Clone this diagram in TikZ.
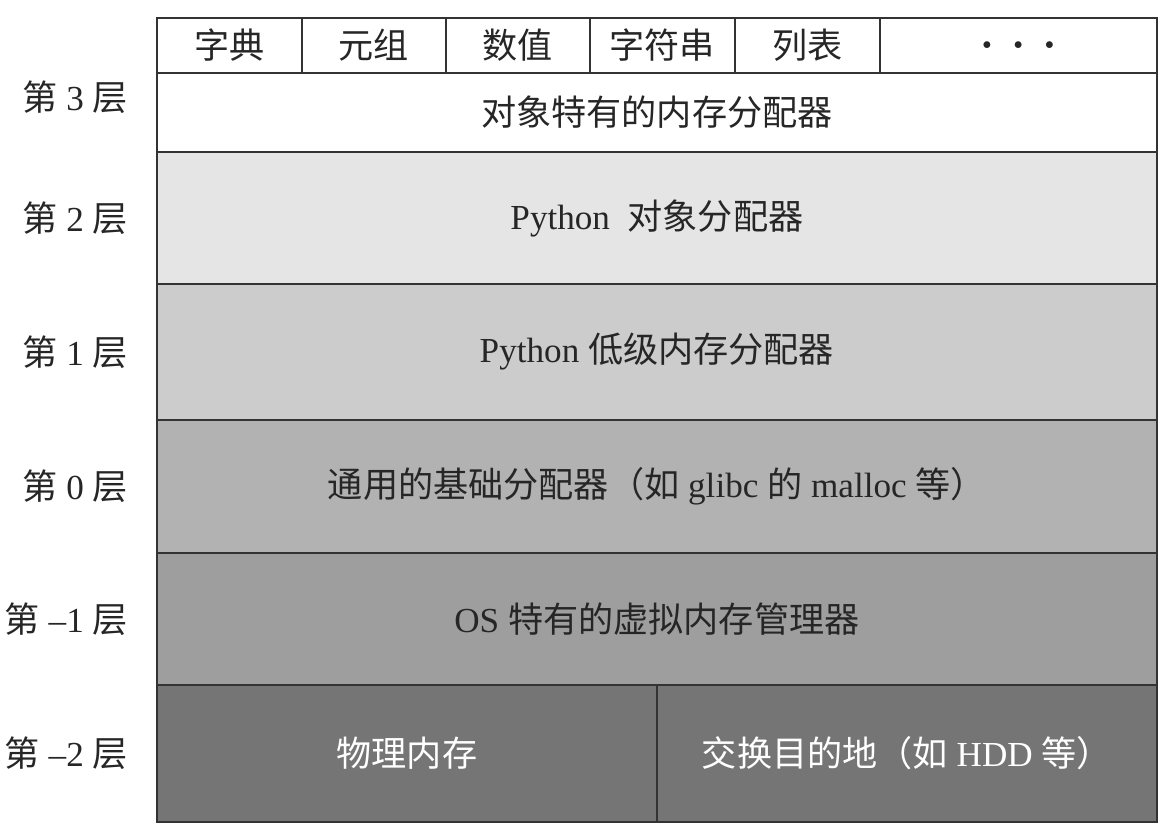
\documentclass[tikz,border=0pt]{standalone}
\usepackage{fontspec}
\setmainfont{Liberation Serif}
\newfontfamily\cjk{Noto Sans CJK SC}
\usetikzlibrary{positioning}
\tikzset{
  cell/.style={rectangle,draw=black!80,line width=0.8pt,outer sep=0pt,inner sep=0pt,minimum height=1.1cm,text=black!85,font=\fontsize{20}{24}\selectfont},
  lyr/.style={rectangle,draw=black!80,line width=0.8pt,outer sep=0pt,inner sep=0pt,minimum width=20cm,text=black!85,font=\fontsize{20}{24}\selectfont},
  lbl/.style={anchor=east,text=black!85,font=\fontsize{20}{24}\selectfont},
}
\newcommand{\dotsym}{{\fontsize{10}{12}\selectfont$\bullet$}}

\begin{document}
\begin{tikzpicture}[x=0.02cm,y=-0.02cm]
  \useasboundingbox (0,0) rectangle (1166,832);
  % object types
  \node[cell,minimum width=2.9cm,anchor=north west] (dict) at (157,18) {\cjk 字典};
  \node[cell,minimum width=2.88cm,right=0pt of dict] (tup) {\cjk 元组};
  \node[cell,minimum width=2.88cm,right=0pt of tup] (num) {\cjk 数值};
  \node[cell,minimum width=2.9cm,right=0pt of num] (str) {\cjk 字符串};
  \node[cell,minimum width=2.9cm,right=0pt of str] (lst) {\cjk 列表};
  \node[cell,minimum width=5.54cm,right=0pt of lst] (etc) {\dotsym\hspace{0.45cm}\dotsym\hspace{0.45cm}\dotsym};
  % layers
  \node[lyr,fill=white,minimum height=1.58cm,anchor=north west] (l3) at (157,73) {\cjk 对象特有的内存分配器};
  \node[lyr,fill=black!10,minimum height=2.64cm,below=0pt of l3] (l2) {Python\ \ {\cjk 对象分配器}};
  \node[lyr,fill=black!20,minimum height=2.72cm,below=0pt of l2] (l1) {Python {\cjk 低级内存分配器}};
  \node[lyr,fill=black!30,minimum height=2.66cm,below=0pt of l1] (l0) {{\cjk 通用的基础分配器（如} glibc {\cjk 的} malloc {\cjk 等）}};
  \node[lyr,fill=black!38,minimum height=2.64cm,below=0pt of l0] (lm1) {OS {\cjk 特有的虚拟内存管理器}};
  \node[lyr,fill=black!54,text=white,minimum width=10cm,minimum height=2.74cm,anchor=north west] (phys) at (lm1.south west) {\cjk 物理内存};
  \node[lyr,fill=black!54,text=white,minimum width=10cm,minimum height=2.74cm,right=0pt of phys] (swap) {{\cjk 交换目的地（如} HDD {\cjk 等）}};
  % layer labels
  \node[lbl] (n3) at (134,97) {{\cjk 第} 3 {\cjk 层}};
  \node[lbl] (n2) at (134,0 |- l2) {{\cjk 第} 2 {\cjk 层}};
  \node[lbl] (n1) at (134,0 |- l1) {{\cjk 第} 1 {\cjk 层}};
  \node[lbl] (n0) at (134,0 |- l0) {{\cjk 第} 0 {\cjk 层}};
  \node[lbl] (nm1) at (134,0 |- lm1) {{\cjk 第} --1 {\cjk 层}};
  \node[lbl] (nm2) at (134,0 |- phys) {{\cjk 第} --2 {\cjk 层}};
\end{tikzpicture}
\end{document}
